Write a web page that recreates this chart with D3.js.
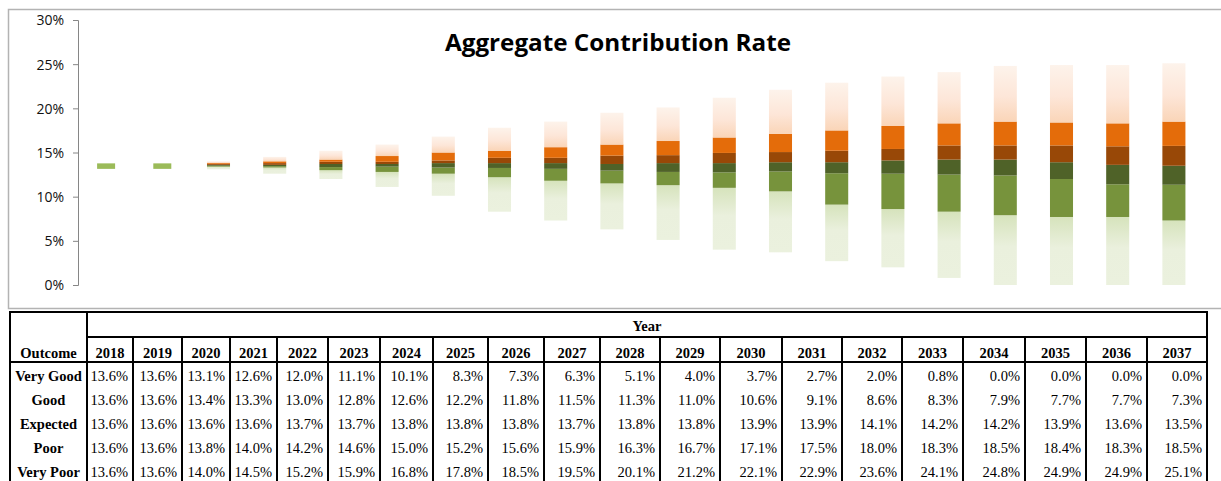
<!DOCTYPE html>
<html lang="en">
<head>
  <meta charset="UTF-8">
  <title>Aggregate Contribution Rate</title>
  <style>
    body {
      margin: 0;
      background-color: white;
    }
    .title {
      font-family: "Open Sans", sans-serif;
      font-weight: bold;
      font-size: 23px;
      fill: #000;
    }
    .axis text {
      font-family: "Open Sans", sans-serif;
      font-size: 14px;
      fill: #111;
    }
    .axis path, .axis line {
      stroke: #868686;
    }
    .tbl text {
      font-family: "Liberation Serif", "Times New Roman", serif;
      font-size: 14.5px;
      fill: #000;
    }
    .tbl .hd {
      font-weight: bold;
    }
    .tbl line {
      stroke: #000;
      stroke-width: 2;
    }
  </style>
</head>
<body>
  <svg id="chart" width="1221" height="481"></svg>

  <script src="https://cdnjs.cloudflare.com/ajax/libs/d3/7.8.5/d3.min.js"></script>
  <script>
    // table values (percent)
    var years = ["2018", "2019", "2020", "2021", "2022", "2023", "2024", "2025", "2026", "2027",
                 "2028", "2029", "2030", "2031", "2032", "2033", "2034", "2035", "2036", "2037"];
    var outcomes = ["Very Good", "Good", "Expected", "Poor", "Very Poor"];
    var veryGood = [13.6, 13.6, 13.1, 12.6, 12.0, 11.1, 10.1, 8.3, 7.3, 6.3, 5.1, 4.0, 3.7, 2.7, 2.0, 0.8, 0.0, 0.0, 0.0, 0.0];
    var good     = [13.6, 13.6, 13.4, 13.3, 13.0, 12.8, 12.6, 12.2, 11.8, 11.5, 11.3, 11.0, 10.6, 9.1, 8.6, 8.3, 7.9, 7.7, 7.7, 7.3];
    var expected = [13.6, 13.6, 13.6, 13.6, 13.7, 13.7, 13.8, 13.8, 13.8, 13.7, 13.8, 13.8, 13.9, 13.9, 14.1, 14.2, 14.2, 13.9, 13.6, 13.5];
    var poor     = [13.6, 13.6, 13.8, 14.0, 14.2, 14.6, 15.0, 15.2, 15.6, 15.9, 16.3, 16.7, 17.1, 17.5, 18.0, 18.3, 18.5, 18.4, 18.3, 18.5];
    var veryPoor = [13.6, 13.6, 14.0, 14.5, 15.2, 15.9, 16.8, 17.8, 18.5, 19.5, 20.1, 21.2, 22.1, 22.9, 23.6, 24.1, 24.8, 24.9, 24.9, 25.1];
    // inner band edges (not in the table)
    var goodMid  = [13.6, 13.6, 13.5, 13.45, 13.35, 13.4, 13.3, 13.25, 13.15, 12.95, 12.8, 12.75, 12.85, 12.65, 12.6, 12.5, 12.4, 12.0, 11.4, 11.35];
    var poorMid  = [13.6, 13.6, 13.7, 13.8, 13.95, 13.95, 14.1, 14.4, 14.4, 14.65, 14.7, 14.95, 15.05, 15.2, 15.4, 15.8, 15.8, 15.8, 15.7, 15.75];
    var yTicks = [0, 5, 10, 15, 20, 25, 30];

    var layers = [
      { lo: veryGood, hi: good,     fill: "url(#gradGreen)" },
      { lo: good,     hi: goodMid,  fill: "#77933c" },
      { lo: goodMid,  hi: expected, fill: "#4f6228" },
      { lo: expected, hi: poorMid,  fill: "#984807" },
      { lo: poorMid,  hi: poor,     fill: "#e46c0a" },
      { lo: poor,     hi: veryPoor, fill: "url(#gradOrange)" }
    ];

    var svg = d3.select("#chart");

    var defs = svg.append("defs");
    var gg = defs.append("linearGradient").attr("id", "gradGreen")
      .attr("x1", 0).attr("y1", 0).attr("x2", 0).attr("y2", 1);
    gg.append("stop").attr("offset", "0%").attr("stop-color", "#d6e3bc");
    gg.append("stop").attr("offset", "45%").attr("stop-color", "#eaf0dd");
    gg.append("stop").attr("offset", "100%").attr("stop-color", "#ebf1de");
    var go = defs.append("linearGradient").attr("id", "gradOrange")
      .attr("x1", 0).attr("y1", 0).attr("x2", 0).attr("y2", 1);
    go.append("stop").attr("offset", "0%").attr("stop-color", "#fdf3eb");
    go.append("stop").attr("offset", "55%").attr("stop-color", "#fde6d8");
    go.append("stop").attr("offset", "100%").attr("stop-color", "#fad5b8");

    // chart frame
    svg.append("rect")
      .attr("x", 8.5).attr("y", 9.5)
      .attr("width", 1230).attr("height", 299)
      .attr("fill", "none")
      .attr("stroke", "#b3b3b3")
      .attr("stroke-width", 1.5);

    var x = d3.scaleBand()
      .domain(years)
      .range([78, 1202])
      .paddingInner(0.59)
      .paddingOuter(0.295);

    var y = d3.scaleLinear()
      .domain([0, 30])
      .range([285, 20]);

    var yAxis = d3.axisLeft(y)
      .tickValues(yTicks)
      .tickSize(5)
      .tickSizeOuter(5)
      .tickPadding(9)
      .tickFormat(function(d) { return d + "%"; });

    svg.append("g")
      .attr("class", "axis")
      .attr("transform", "translate(78,0)")
      .call(yAxis)
      .call(function(g) { g.selectAll("text").attr("dy", "0.35em"); });

    // floating stacked bands
    layers.forEach(function(layer) {
      svg.append("g").selectAll("rect")
        .data(years)
        .enter().append("rect")
        .attr("x", function(d) { return x(d); })
        .attr("width", x.bandwidth())
        .attr("y", function(d, i) { return y(layer.hi[i]); })
        .attr("height", function(d, i) { return y(layer.lo[i]) - y(layer.hi[i]); })
        .attr("fill", layer.fill);
    });

    // flat years: no spread, shown as a dash
    svg.append("g").selectAll("rect")
      .data(years.filter(function(d, i) { return veryGood[i] === veryPoor[i]; }))
      .enter().append("rect")
      .attr("x", function(d) { return x(d) + x.bandwidth() / 2 - 9; })
      .attr("width", 18)
      .attr("y", function(d) { return y(expected[years.indexOf(d)]) - 1.5; })
      .attr("height", 5.5)
      .attr("fill", "#9bbb59");

    svg.append("text")
      .attr("class", "title")
      .attr("x", 618)
      .attr("y", 51)
      .attr("text-anchor", "middle")
      .attr("textLength", 346)
      .attr("lengthAdjust", "spacingAndGlyphs")
      .text("Aggregate Contribution Rate");

    // data table under the chart
    var colEdges = [87, 133, 182, 230, 277, 328, 380, 433, 488, 544, 600, 660, 720, 782, 842, 902, 963, 1025, 1086, 1147, 1207];
    var tblLeft = 10, tblTop = 312, hdMid = 337, hdBottom = 362, tblBottom = 490;
    var rowBase = 381, rowStep = 24.1;
    var rows = [veryGood, good, expected, poor, veryPoor];

    var tbl = svg.append("g").attr("class", "tbl");

    tbl.append("line").attr("x1", tblLeft - 1).attr("x2", 1208).attr("y1", tblTop).attr("y2", tblTop);
    tbl.append("line").attr("x1", colEdges[0]).attr("x2", 1208).attr("y1", hdMid).attr("y2", hdMid);
    tbl.append("line").attr("x1", tblLeft - 1).attr("x2", 1208).attr("y1", hdBottom).attr("y2", hdBottom);
    tbl.append("line").attr("x1", tblLeft).attr("x2", tblLeft).attr("y1", tblTop).attr("y2", tblBottom);
    tbl.append("line").attr("x1", colEdges[0]).attr("x2", colEdges[0]).attr("y1", tblTop).attr("y2", tblBottom);
    tbl.append("line").attr("x1", 1207).attr("x2", 1207).attr("y1", tblTop).attr("y2", tblBottom);

    tbl.selectAll(".vline")
      .data(colEdges.slice(1, -1))
      .enter().append("line")
      .attr("class", "vline")
      .attr("x1", function(d) { return d; })
      .attr("x2", function(d) { return d; })
      .attr("y1", hdMid)
      .attr("y2", tblBottom);

    tbl.append("text").attr("class", "hd")
      .attr("x", (colEdges[0] + 1207) / 2).attr("y", 331)
      .attr("text-anchor", "middle").text("Year");

    tbl.append("text").attr("class", "hd")
      .attr("x", (tblLeft + colEdges[0]) / 2).attr("y", 357.5)
      .attr("text-anchor", "middle").text("Outcome");

    tbl.selectAll(".yr")
      .data(years)
      .enter().append("text")
      .attr("class", "hd yr")
      .attr("x", function(d, i) { return (colEdges[i] + colEdges[i + 1]) / 2; })
      .attr("y", 357.5)
      .attr("text-anchor", "middle")
      .text(function(d) { return d; });

    tbl.selectAll(".oc")
      .data(outcomes)
      .enter().append("text")
      .attr("class", "hd oc")
      .attr("x", (tblLeft + colEdges[0]) / 2)
      .attr("y", function(d, i) { return rowBase + i * rowStep; })
      .attr("text-anchor", "middle")
      .text(function(d) { return d; });

    rows.forEach(function(vals, r) {
      tbl.append("g").selectAll("text")
        .data(vals)
        .enter().append("text")
        .attr("x", function(d, i) { return colEdges[i + 1] - 5; })
        .attr("y", rowBase + r * rowStep)
        .attr("text-anchor", "end")
        .text(function(d) { return d.toFixed(1) + "%"; });
    });
  </script>
</body>
</html>
